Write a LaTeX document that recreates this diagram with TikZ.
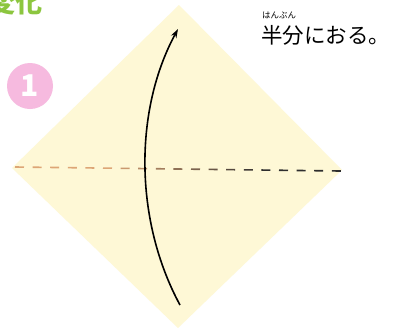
\documentclass[tikz,border=0pt]{standalone}
\usepackage{fontspec}
\setmainfont{Noto Sans CJK JP}
\newfontfamily\jp{Noto Sans CJK JP}
\usetikzlibrary{arrows.meta}
\definecolor{paper}{HTML}{FEF8D6}
\definecolor{stepPink}{HTML}{F6BADF}
\definecolor{titleGreen}{HTML}{8CC63F}
\definecolor{foldTan}{HTML}{DDA676}
\definecolor{foldDark}{HTML}{2E2E2E}
\tikzset{
  sheet/.style={fill=paper, draw=none},
  arrowline/.style={line width=1.6pt, draw=black, -{Stealth[length=9pt,width=6pt]}},
  badge/.style={circle, fill=stepPink, minimum size=46pt, inner sep=0pt, text=white, font=\jp\bfseries\fontsize{30}{30}\selectfont},
  caption/.style={font=\jp\fontsize{21.5}{21.5}\selectfont, inner sep=0pt},
  ruby/.style={font=\jp\fontsize{8.5}{8.5}\selectfont, inner sep=0pt},
  title/.style={font=\jp\bfseries\fontsize{27}{27}\selectfont, text=titleGreen, inner sep=0pt}
}
\begin{document}
\begin{tikzpicture}[x=1pt,y=-1pt]
\useasboundingbox (0,0) rectangle (394,327);
\clip (0,0) rectangle (394,327);
\fill[white] (0,0) rectangle (394,327);
% paper
\path[sheet] (179,5) -- (342,170) -- (178,328) -- (12,168) -- cycle;
% dashed fold line, colour shading from tan to dark
\foreach \i in {0,...,18}{
  \pgfmathsetmacro{\xa}{15+\i*17.6}
  \pgfmathsetmacro{\xb}{\xa+9}
  \pgfmathsetmacro{\ya}{167+(\xa-15)*4/325}
  \pgfmathsetmacro{\yb}{167+(\xb-15)*4/325}
  \pgfmathsetmacro{\mixv}{max(0,min(100,100-(\i-5)*100/9))}
  \draw[line width=1.6pt, color=foldTan!\mixv!foldDark] (\xa,\ya) -- (\xb,\yb);
}
% arrow
\coordinate (arrStart) at (180,305);
\coordinate (arrEnd) at (178,29);
\draw[arrowline] (arrStart) .. controls (134,220) and (134,110) .. (arrEnd);
% badge
\node[badge] (stepnum) at (30,86) {1};
% caption
\node[caption, anchor=base west] (cap) at (261,43.5) {半分におる。};
\node[ruby, anchor=base west] (rb) at (262,18) {はんぶん};
% title
\node[title, anchor=base east] (ttl) at (43,12) {変化};
\end{tikzpicture}
\end{document}
